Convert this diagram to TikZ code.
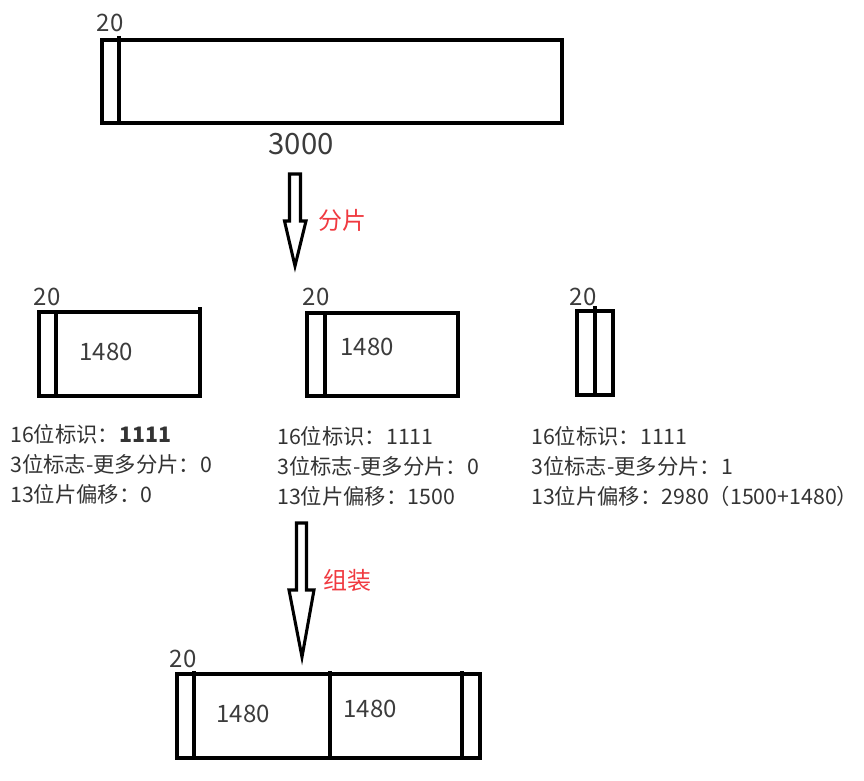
\documentclass[tikz,border=0pt]{standalone}
\usepackage{fontspec}
\setmainfont{Noto Sans CJK SC}
\usetikzlibrary{fit}

\definecolor{labelred}{HTML}{F03A40}
\definecolor{textgray}{HTML}{333333}
\definecolor{numgray}{HTML}{3C3C3C}

\begin{document}
\begin{tikzpicture}[
    x=0.75pt, y=-0.75pt,
    box/.style={draw, line width=3pt, inner sep=0pt},
    sepline/.style={line width=3pt},
    blockarr/.style={draw, line width=2.3pt, line join=miter},
    hdrlbl/.style={font=\fontsize{18}{18}\selectfont, text=numgray},
    sizelbl/.style={font=\fontsize{18}{18}\selectfont, text=numgray},
    totallbl/.style={font=\fontsize{22}{22}\selectfont, text=numgray},
    infolbl/.style={font=\fontsize{16}{22.5}\selectfont, text=textgray,
                    align=left, anchor=west, inner sep=0pt},
    actlbl/.style={font=\fontsize{18}{18}\selectfont, text=labelred},
]
\useasboundingbox (0,0) rectangle (864,781);

% Original datagram
\node[box, fit={(101.5,40) (561.5,123.5)}] (orig) {};
\draw[sepline] (118.5,36) -- (118.5,123.5);
\node[hdrlbl] (origh) at (110,23) {20};
\node[totallbl] (origt) at (301,144) {3000};

% Fragmentation arrow
\draw[blockarr] (289.5,174) -- (300.5,174) -- (300.5,221) -- (306,221)
    -- (295,266) -- (284.5,221) -- (289.5,221) -- cycle;
\node[actlbl] (frag) at (342,220) {分片};

% Fragment 1
\node[box, fit={(38.5,312) (199.5,396)}] (fa) {};
\draw[sepline] (56,312) -- (56,396);
\draw[sepline] (199.5,307) -- (199.5,312);
\node[hdrlbl] (fah) at (47,297) {20};
\node[sizelbl] (fas) at (106,352) {1480};

% Fragment 2
\node[box, fit={(307,313) (457.5,396)}] (fb) {};
\draw[sepline] (324.5,313) -- (324.5,396);
\node[hdrlbl] (fbh) at (316,297) {20};
\node[sizelbl] (fbs) at (367,347) {1480};

% Fragment 3
\node[box, fit={(576.5,310.5) (612.5,394.5)}] (fc) {};
\draw[sepline] (594.5,306) -- (594.5,394.5);
\node[hdrlbl] (fch) at (583,297) {20};

% Header fields
\node[infolbl] (fai) at (10,464) {16位标识：\textbf{1111}\\3位标志-更多分片：0\\13位片偏移：0};
\node[infolbl] (fbi) at (277,466) {16位标识：1111\\3位标志-更多分片：0\\13位片偏移：1500};
\node[infolbl] (fci) at (531,466) {16位标识：1111\\3位标志-更多分片：1\\13位片偏移：2980（1500+1480）};

% Reassembly arrow
\draw[blockarr] (296.5,523) -- (306.5,523) -- (306.5,590) -- (314,590)
    -- (302,657) -- (289,590) -- (296.5,590) -- cycle;
\node[actlbl] (asm) at (347,580) {组装};

% Reassembled datagram
\node[box, fit={(177,673.5) (480,757.5)}] (whole) {};
\draw[sepline] (193.5,671) -- (193.5,757.5);
\draw[sepline] (329.5,671) -- (329.5,757.5);
\draw[sepline] (461.5,671) -- (461.5,757.5);
\node[hdrlbl] (wholeh) at (183,659) {20};
\node[sizelbl] (wholea) at (243,714) {1480};
\node[sizelbl] (wholeb) at (370,709) {1480};

\end{tikzpicture}
\end{document}
